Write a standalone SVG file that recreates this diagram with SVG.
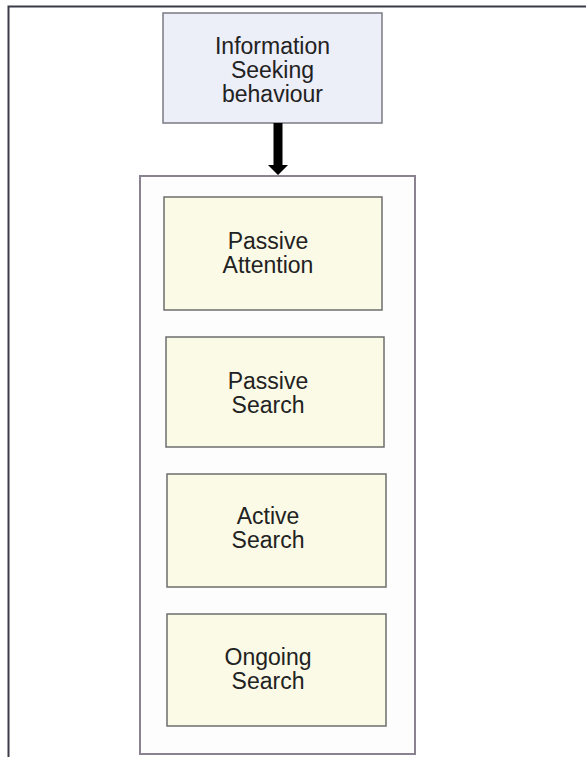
<svg xmlns="http://www.w3.org/2000/svg" width="586" height="757" viewBox="0 0 586 757">
<style>
  .frame { fill: #ffffff; stroke: #3a3a48; stroke-width: 2; }
  .top { fill: #eceef8; stroke: #7a7a84; stroke-width: 1.5; }
  .container { fill: #fefdfe; stroke: #8a8290; stroke-width: 2; }
  .item { fill: #fafae6; stroke: #6e6e6e; stroke-width: 1.5; }
  text { font-family: "Liberation Sans", Arial, sans-serif; font-size: 23px; fill: #222222; text-anchor: middle; }
</style>
<rect class="frame" x="8.5" y="6.5" width="600" height="800"/>
<g id="node-info">
  <rect class="top" x="163" y="13" width="219" height="110"/>
  <text x="272.5" y="54">Information</text>
  <text x="272.5" y="78">Seeking</text>
  <text x="272.5" y="102">behaviour</text>
</g>
<g id="node-container">
  <rect class="container" x="140" y="176" width="275" height="578"/>
</g>
<g id="node-passive-attention">
  <rect class="item" x="164" y="197" width="218" height="113"/>
  <text x="268" y="249">Passive</text>
  <text x="268" y="273">Attention</text>
</g>
<g id="node-passive-search">
  <rect class="item" x="166" y="337" width="218" height="110"/>
  <text x="268" y="389">Passive</text>
  <text x="268" y="413">Search</text>
</g>
<g id="node-active-search">
  <rect class="item" x="167" y="474" width="219" height="113"/>
  <text x="268" y="524">Active</text>
  <text x="268" y="548">Search</text>
</g>
<g id="node-ongoing-search">
  <rect class="item" x="167" y="614" width="219" height="112"/>
  <text x="268" y="665">Ongoing</text>
  <text x="268" y="689">Search</text>
</g>
<g id="connectors">
  <polygon points="273.5,123 282.5,123 282.5,165 288,165 278,175 268,165 273.5,165" fill="#000000"/>
</g>
</svg>
